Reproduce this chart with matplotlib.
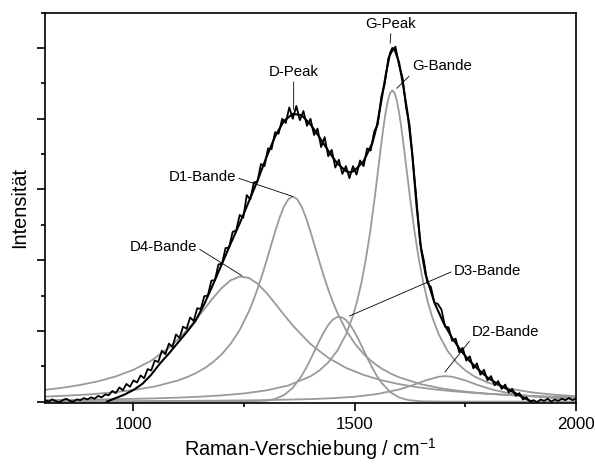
import numpy as np
import matplotlib
matplotlib.use("Agg")
import matplotlib.pyplot as plt
from matplotlib.ticker import MultipleLocator, NullFormatter

plt.rcParams['font.family'] = ['Liberation Sans', 'DejaVu Sans']

# ---------------- data ----------------
# measured spectrum (noisy), x grid every 8 cm^-1
meas_x = np.arange(800, 2001, 8)
meas_y = [0.02, 0.00, 0.03, 0.01, -0.01, 0.02, 0.04, 0.01, 0.00, 0.03, 0.02, 0.05, 0.03, 0.06, 0.04, 0.08, 0.06, 0.10,
          0.09, 0.15, 0.12, 0.20, 0.16, 0.25, 0.21, 0.30,
          0.27, 0.37, 0.33, 0.46, 0.44, 0.58, 0.56, 0.72, 0.67, 0.82, 0.77, 0.95,
          0.90, 1.06, 1.03, 1.19, 1.14, 1.32, 1.31, 1.49, 1.50, 1.71, 1.72, 1.94, 1.95,
          2.17, 2.18, 2.40, 2.42, 2.64, 2.60, 2.92, 2.86, 3.10, 3.11, 3.36, 3.33, 3.58,
          3.57, 3.81, 3.79, 4.00, 3.94, 4.16, 4.00, 4.18, 3.98, 4.11, 3.90, 4.00,
          3.77, 3.86, 3.60, 3.74, 3.47, 3.56, 3.31, 3.42, 3.22, 3.33, 3.16, 3.33, 3.21,
          3.41, 3.33, 3.58, 3.55, 3.82, 3.92, 4.31, 4.50, 4.86, 4.95, 5.02, 4.76,
          4.58, 4.16, 3.90, 3.36, 2.82, 2.23, 2.00, 1.68, 1.62, 1.40, 1.38, 1.30, 1.06,
          1.05, 0.86, 0.89, 0.70, 0.76, 0.58, 0.64, 0.47, 0.54, 0.38, 0.45, 0.30,
          0.36, 0.23, 0.29, 0.18, 0.24, 0.13, 0.18, 0.08, 0.12, 0.03, 0.06, 0.00,
          0.02, -0.01, 0.03, 0.01, 0.04, 0.00, 0.03, 0.01, 0.04, 0.02, 0.05, 0.02, 0.04]

# fitted sum curve
fit_x = [940, 960, 980, 1000, 1020, 1040, 1060, 1080, 1100, 1120, 1140, 1160, 1180, 1200, 1220, 1240,
         1260, 1280, 1300, 1320, 1340, 1360, 1380, 1400, 1420, 1440, 1460, 1480, 1490, 1500, 1520,
         1540, 1550, 1560, 1570, 1580, 1585, 1590, 1600, 1610, 1620, 1630, 1640, 1650, 1660, 1670,
         1680, 1700, 1720, 1740, 1760, 1780, 1800, 1820, 1840, 1860, 1880, 1900]
fit_y = [0.00, 0.05, 0.10, 0.165, 0.25, 0.38, 0.54, 0.68, 0.83, 0.98, 1.14, 1.38, 1.66, 1.95, 2.24, 2.52,
         2.82, 3.12, 3.45, 3.75, 3.97, 4.07, 4.05, 3.92, 3.74, 3.55, 3.37, 3.26, 3.24, 3.27, 3.40,
         3.66, 3.90, 4.25, 4.62, 4.93, 5.00, 4.98, 4.80, 4.45, 4.05, 3.50, 2.75, 2.15, 1.80, 1.60,
         1.40, 1.12, 0.90, 0.72, 0.57, 0.45, 0.34, 0.26, 0.19, 0.13, 0.06, 0.00]

# component bands
d4_x = [800, 840, 880, 920, 960, 1000, 1040, 1080, 1120, 1140, 1160, 1180, 1200, 1220, 1240, 1260,
        1280, 1300, 1320, 1340, 1360, 1400, 1440, 1480, 1520, 1560, 1600, 1640, 1680, 1720, 1760,
        1800, 1840, 1880, 1920, 1960, 2000]
d4_y = [0.166, 0.196, 0.236, 0.287, 0.356, 0.450, 0.579, 0.759, 1.003, 1.150, 1.308, 1.467, 1.611,
        1.717, 1.768, 1.751, 1.670, 1.542, 1.388, 1.228, 1.075, 0.814, 0.619, 0.478, 0.377, 0.302,
        0.247, 0.205, 0.173, 0.147, 0.127, 0.110, 0.097, 0.085, 0.076, 0.068, 0.061]

d1_x = [800, 850, 900, 950, 1000, 1050, 1100, 1120, 1140, 1160, 1180, 1200, 1220, 1240, 1260, 1270,
        1280, 1290, 1300, 1310, 1320, 1330, 1340, 1350, 1360, 1370, 1380, 1390, 1400, 1410, 1420,
        1430, 1440, 1450, 1460, 1480, 1500, 1520, 1540, 1560, 1580, 1600, 1650, 1700, 1750, 1800,
        1850, 1900, 1950, 2000]
d1_y = [0.070, 0.084, 0.102, 0.128, 0.163, 0.216, 0.298, 0.344, 0.400, 0.470, 0.559, 0.673, 0.821,
        1.014, 1.266, 1.417, 1.588, 1.776, 1.980, 2.192, 2.403, 2.598, 2.757, 2.863, 2.900, 2.863,
        2.757, 2.598, 2.403, 2.192, 1.980, 1.776, 1.588, 1.417, 1.266, 1.014, 0.821, 0.673, 0.559,
        0.470, 0.400, 0.344, 0.245, 0.182, 0.141, 0.112, 0.091, 0.075, 0.063, 0.054]

g_x = [800, 850, 900, 950, 1000, 1050, 1100, 1150, 1200, 1250, 1300, 1350, 1400, 1420, 1440, 1460,
       1480, 1495, 1505, 1515, 1525, 1535, 1545, 1555, 1560, 1565, 1570, 1575, 1580, 1585, 1590,
       1595, 1600, 1605, 1610, 1615, 1625, 1635, 1645, 1655, 1665, 1675, 1690, 1710, 1730, 1750,
       1770, 1800, 1850, 1900, 1950, 2000]
g_y = [0.0215, 0.0245, 0.0282, 0.0328, 0.0386, 0.046, 0.0559, 0.0692, 0.088, 0.1155, 0.158, 0.228,
       0.357, 0.440, 0.553, 0.714, 0.947, 1.196, 1.412, 1.679, 2.009, 2.409, 2.878, 3.391, 3.647,
       3.886, 4.095, 4.259, 4.364, 4.400, 4.364, 4.259, 4.095, 3.886, 3.647, 3.391, 2.878, 2.409,
       2.009, 1.679, 1.412, 1.196, 0.947, 0.714, 0.553, 0.440, 0.357, 0.270, 0.182, 0.130, 0.0977,
       0.076]

d3_x = [800, 1000, 1200, 1250, 1300, 1320, 1340, 1360, 1380, 1390, 1400, 1410, 1420, 1430, 1440,
        1450, 1460, 1470, 1480, 1490, 1500, 1510, 1520, 1530, 1540, 1550, 1560, 1580, 1600, 1620,
        1650, 1700, 1800, 2000]
d3_y = [0.0, 0.0, 0.0, 0.0006, 0.0133, 0.037, 0.091, 0.194, 0.364, 0.474, 0.597, 0.728, 0.859, 0.980,
        1.082, 1.156, 1.195, 1.195, 1.156, 1.082, 0.980, 0.859, 0.728, 0.597, 0.474, 0.364, 0.270,
        0.135, 0.059, 0.0226, 0.004, 0.0, 0.0, 0.0]

d2_x = [800, 900, 1000, 1100, 1200, 1300, 1400, 1450, 1500, 1550, 1600, 1630, 1660, 1690, 1705,
        1720, 1750, 1780, 1810, 1850, 1900, 1950, 2000]
d2_y = [0.0043, 0.0055, 0.0071, 0.0096, 0.0136, 0.0207, 0.035, 0.048, 0.069, 0.106, 0.171, 0.230,
        0.299, 0.352, 0.360, 0.352, 0.299, 0.230, 0.171, 0.116, 0.075, 0.051, 0.037]

x_ticks = [1000, 1500, 2000]

# ---------------- figure ----------------
fig = plt.figure(figsize=(5.95, 4.65), dpi=100)
ax = fig.add_axes([45 / 595, 1 - 403 / 465, 531 / 595, 390.3 / 465])

gray = '#9a9a9a'
for bx, by in [(d4_x, d4_y), (d1_x, d1_y), (d3_x, d3_y), (d2_x, d2_y), (g_x, g_y)]:
    ax.plot(bx, by, color=gray, lw=1.3, solid_joinstyle='round', zorder=2)

ax.plot(meas_x, meas_y, color='black', lw=1.3, zorder=3)
ax.plot(fit_x, fit_y, color='black', lw=1.5, zorder=4)

ax.set_xlim(800, 2000)
ax.set_ylim(-0.02, 5.5)

ax.xaxis.set_major_locator(plt.FixedLocator(x_ticks))
ax.xaxis.set_minor_locator(MultipleLocator(250))
ax.yaxis.set_major_locator(MultipleLocator(1))
ax.yaxis.set_minor_locator(MultipleLocator(0.5))
ax.yaxis.set_major_formatter(NullFormatter())

ax.tick_params(which='both', direction='out', top=False, right=False, width=1.2)
ax.tick_params(which='major', length=6)
ax.tick_params(which='minor', length=3)
ax.tick_params(axis='x', labelsize=12.2, pad=4)
for s in ax.spines.values():
    s.set_linewidth(1.2)

ax.set_xlabel(r'Raman-Verschiebung / cm$\mathregular{^{-1}}$', fontsize=14.3)
ax.xaxis.set_label_coords(0.5, -0.086)
ax.set_ylabel('Intensität', fontsize=14.3)
ax.yaxis.set_label_coords(-0.03, 0.5)

fs = 10.8
ap = dict(arrowstyle='-', lw=0.6, color='black', shrinkA=0, shrinkB=0)
ax.annotate('D-Peak', xy=(1362, 4.13), xytext=(1362, 4.66), ha='center', va='center', fontsize=fs,
            arrowprops=dict(ap, relpos=(0.5, 0)))
ax.annotate('G-Peak', xy=(1580, 5.07), xytext=(1582, 5.34), ha='center', va='center', fontsize=fs,
            arrowprops=dict(ap, relpos=(0.5, 0)))
ax.annotate('G-Bande', xy=(1595, 4.43), xytext=(1629, 4.74), ha='left', va='center', fontsize=fs,
            arrowprops=dict(ap, relpos=(0, 0)))
ax.annotate('D1-Bande', xy=(1360, 2.90), xytext=(1232, 3.17), ha='right', va='center', fontsize=fs,
            arrowprops=dict(ap, relpos=(1, 0.5)))
ax.annotate('D4-Bande', xy=(1245, 1.78), xytext=(1143, 2.18), ha='right', va='center', fontsize=fs,
            arrowprops=dict(ap, relpos=(1, 0.5)))
ax.annotate('D3-Bande', xy=(1488, 1.21), xytext=(1724, 1.85), ha='left', va='center', fontsize=fs,
            arrowprops=dict(ap, relpos=(0, 0.5)))
ax.annotate('D2-Bande', xy=(1704, 0.42), xytext=(1764, 0.99), ha='left', va='center', fontsize=fs,
            arrowprops=dict(ap, relpos=(0, 0)))

fig.savefig('out.png', dpi=100)
